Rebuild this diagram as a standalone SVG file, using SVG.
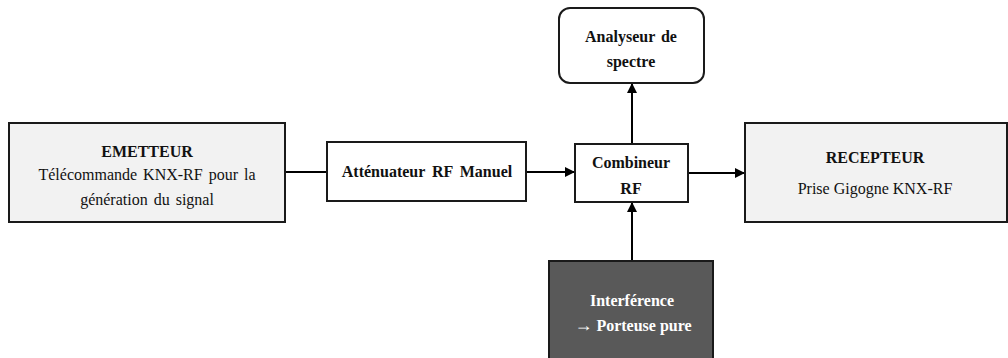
<svg xmlns="http://www.w3.org/2000/svg" width="1008" height="358" viewBox="0 0 1008 358">
<defs>
<marker id="arr" markerWidth="10" markerHeight="10" refX="9" refY="5" orient="auto" markerUnits="userSpaceOnUse">
<path d="M0,0 L10,5 L0,10 z" fill="#000"/>
</marker>
<style>
.box{stroke:#1a1a1a;stroke-width:2}
.light{fill:#f2f2f2}
.white{fill:#ffffff}
.dark{fill:#595959}
.t{font-family:'Liberation Serif','Times New Roman','DejaVu Serif',serif;font-size:16px;text-anchor:middle;fill:#111}
.b{font-weight:bold}
.w{fill:#ffffff}
.conn{stroke:#000;stroke-width:2;fill:none}
</style>
</defs>
<rect width="1008" height="358" fill="#ffffff"/>
<g id="connectors">
<line class="conn" x1="285" y1="172" x2="327" y2="172"/>
<line class="conn" x1="526" y1="172" x2="574" y2="172" marker-end="url(#arr)"/>
<line class="conn" x1="688" y1="173" x2="744" y2="173" marker-end="url(#arr)"/>
<line class="conn" x1="632" y1="144" x2="632" y2="84" marker-end="url(#arr)"/>
<line class="conn" x1="632" y1="261" x2="632" y2="203" marker-end="url(#arr)"/>
</g>
<g id="emetteur">
<rect class="box light" x="9" y="123" width="276" height="99"/>
<text class="t b" x="147" y="157">EMETTEUR</text>
<text class="t" x="147" y="180" word-spacing="2">Télécommande  KNX-RF pour la</text>
<text class="t" x="147" y="205" word-spacing="2">génération du signal</text>
</g>
<g id="attenuateur">
<rect class="box white" x="327" y="142" width="199" height="59"/>
<text class="t b" x="427" y="177" word-spacing="3">Atténuateur RF Manuel</text>
</g>
<g id="combineur">
<rect class="box white" x="575" y="144" width="113" height="58"/>
<text class="t b" x="631" y="168">Combineur</text>
<text class="t b" x="631" y="194">RF</text>
</g>
<g id="analyseur">
<rect class="box white" x="559" y="8" width="145" height="75" rx="11" ry="11"/>
<text class="t b" x="631" y="42" word-spacing="2">Analyseur de</text>
<text class="t b" x="631" y="67">spectre</text>
</g>
<g id="recepteur">
<rect class="box light" x="745" y="123" width="262" height="99"/>
<text class="t b" x="875" y="163">RECEPTEUR</text>
<text class="t" x="875" y="194">Prise Gigogne  KNX-RF</text>
</g>
<g id="interference">
<rect class="box dark" x="549" y="261" width="164" height="100"/>
<text class="t b w" x="632" y="306">Interférence</text>
<text class="t b w" x="633" y="331"><tspan font-size="18">→</tspan> Porteuse pure</text>
</g>
</svg>
